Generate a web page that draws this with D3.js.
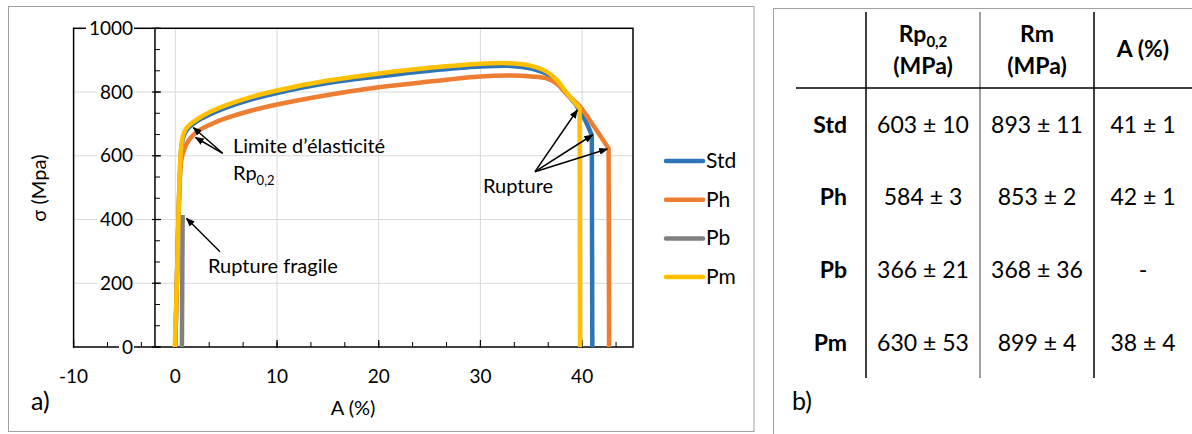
<!DOCTYPE html>
<html><head><meta charset="utf-8">
<script src="https://cdn.jsdelivr.net/npm/d3@7"></script>
<style>
body{margin:0;background:#fff}
svg{display:block}
text{font-family:Lato,'Noto Sans',sans-serif;fill:#000}
</style>
</head><body>
<svg id="c" width="1192" height="434"></svg>
<script>
// ---------- data ----------
const seriesNames = ["Std", "Ph", "Pb", "Pm"];
const seriesColors = ["#2E75B6", "#ED7D31", "#808080", "#FFC000"];

const stdX = [0, 0.25, 0.45, 0.6, 0.8, 1.1, 1.5, 2.2, 3.5, 5, 7.5, 10, 15, 20, 25, 30, 33, 35, 36.5, 37.5, 38.5, 39.5, 40.2, 40.95, 41.0];
const stdY = [0, 330, 540, 625, 660, 680, 694, 710, 731, 751, 777, 797, 828, 849, 867, 880, 882, 874, 857, 832, 794, 755, 718, 665, 0];

const phX = [0, 0.25, 0.45, 0.6, 0.8, 1.1, 1.5, 2.2, 3.5, 5, 7.5, 10, 15, 20, 25, 30, 33, 35, 36.5, 37.5, 38.5, 39.8, 41.2, 42.6, 42.65];
const phY = [0, 330, 530, 588, 613, 637, 656, 677, 699, 718, 742, 761, 791, 815, 833, 849, 852, 849, 843, 826, 793, 754, 690, 623, 0];

const pbX = [0.65, 0.72];
const pbY = [0, 414];

const pmX = [-0.05, 0.15, 0.3, 0.45, 0.6, 0.8, 1.1, 1.5, 2.2, 3.5, 5, 7.5, 10, 15, 20, 25, 30, 33, 35, 36.5, 37.5, 38.5, 39.75, 39.8];
const pmY = [0, 200, 398, 560, 635, 668, 687, 700, 716, 739, 759, 785, 805, 836, 858, 876, 889, 890, 882, 864, 838, 797, 749, 0];

const xTicks = [-10, 0, 10, 20, 30, 40];
const yTicks = [0, 200, 400, 600, 800, 1000];

const tableRows = ["Std", "Ph", "Pb", "Pm"];
const rpValues = ["603 ± 10", "584 ± 3", "366 ± 21", "630 ± 53"];
const rmValues = ["893 ± 11", "853 ± 2", "368 ± 36", "899 ± 4"];
const aValues = ["41 ± 1", "42 ± 1", "-", "38 ± 4"];

// ---------- chart ----------
const svg = d3.select("#c");
const x = d3.scaleLinear().domain([-10, 45]).range([73.6, 633]);
const y = d3.scaleLinear().domain([0, 1000]).range([347, 28.3]);
const yAxisAt = -2;
const FS = 20;

// panel borders
svg.append("rect").attr("x", 8.5).attr("y", 6.5).attr("width", 745.5).attr("height", 425)
  .attr("fill", "none").attr("stroke", "#a0a0a0").attr("stroke-width", 1);
svg.append("path").attr("d", "M773.5,434V8.5H1192").attr("fill", "none").attr("stroke", "#a0a0a0");

const g = svg.append("g");
// gridlines
g.selectAll(".vg").data(xTicks.filter(d => d > -10)).join("line")
  .attr("x1", d => x(d)).attr("x2", d => x(d)).attr("y1", y(0)).attr("y2", y(1000))
  .attr("stroke", "#d9d9d9").attr("stroke-width", 1);
g.selectAll(".hg").data(yTicks.filter(d => d > 0 && d < 1000)).join("line")
  .attr("x1", x(-10)).attr("x2", x(45)).attr("y1", d => y(d)).attr("y2", d => y(d))
  .attr("stroke", "#d9d9d9").attr("stroke-width", 1);
// plot border
g.append("rect").attr("x", x(-10)).attr("y", y(1000)).attr("width", x(45) - x(-10)).attr("height", y(0) - y(1000))
  .attr("fill", "none").attr("stroke", "#000").attr("stroke-width", 1.5);

// y axis at x=-2
g.append("line").attr("x1", x(yAxisAt)).attr("x2", x(yAxisAt)).attr("y1", y(0)).attr("y2", y(1000))
  .attr("stroke", "#000").attr("stroke-width", 1.5);
const yMinor = d3.range(0, 1000.1, 200 / 3);
g.selectAll(".ymt").data(yMinor).join("line")
  .attr("x1", x(yAxisAt)).attr("x2", x(yAxisAt) + 5).attr("y1", d => y(d)).attr("y2", d => y(d))
  .attr("stroke", "#000").attr("stroke-width", 1);
g.selectAll(".yMt").data(yTicks).join("line")
  .attr("x1", x(yAxisAt) - 3).attr("x2", x(yAxisAt) + 6).attr("y1", d => y(d)).attr("y2", d => y(d))
  .attr("stroke", "#000").attr("stroke-width", 1.2);
// x ticks
const xMinor = d3.range(-10, 45, 10 / 3);
g.selectAll(".xmt").data(xMinor).join("line")
  .attr("x1", d => x(d)).attr("x2", d => x(d)).attr("y1", y(0)).attr("y2", y(0) - 5)
  .attr("stroke", "#000").attr("stroke-width", 1);
g.selectAll(".xMt").data(xTicks).join("line")
  .attr("x1", d => x(d)).attr("x2", d => x(d)).attr("y1", y(0) + 1).attr("y2", y(0) - 7)
  .attr("stroke", "#000").attr("stroke-width", 1.2);

// y tick labels with white background
const yl = g.selectAll(".yl").data(yTicks).join("g");
yl.append("rect").attr("x", d => 133 - (String(d).length * 11) - 3).attr("y", d => y(d) - 4)
  .attr("width", d => String(d).length * 11 + 4).attr("height", 8).attr("fill", "#fff");
yl.append("text").attr("x", 133).attr("y", d => y(d) + 6.5).attr("text-anchor", "end")
  .attr("font-size", 19).text(d => d);
// x tick labels
g.selectAll(".xl").data(xTicks).join("text")
  .attr("x", d => x(d)).attr("y", 383).attr("text-anchor", "middle").attr("font-size", 19).text(d => d);

// axis titles
g.append("text").attr("transform", "translate(46,188) rotate(-90)").attr("text-anchor", "middle")
  .attr("font-size", FS).text("σ (Mpa)");
g.append("text").attr("x", 353).attr("y", 415).attr("text-anchor", "middle").attr("font-size", FS).text("A (%)");
g.append("text").attr("x", 31).attr("y", 410).attr("font-size", 25).text("a)");

// series
const series = [
  {name: seriesNames[0], color: seriesColors[0], xs: stdX, ys: stdY},
  {name: seriesNames[1], color: seriesColors[1], xs: phX, ys: phY},
  {name: seriesNames[2], color: seriesColors[2], xs: pbX, ys: pbY},
  {name: seriesNames[3], color: seriesColors[3], xs: pmX, ys: pmY}
];
const smooth = d3.line().x(d => x(d[0])).y(d => y(d[1])).curve(d3.curveCatmullRom.alpha(0.5));
series.forEach(s => {
  const pts = s.xs.map((v, i) => [v, s.ys[i]]);
  let d;
  if (pts.length > 2) {
    const last = pts[pts.length - 1];
    d = smooth(pts.slice(0, -1)) + "L" + x(last[0]) + "," + y(last[1]);
  } else {
    d = d3.line().x(p => x(p[0])).y(p => y(p[1]))(pts);
  }
  g.append("path").attr("d", d).attr("fill", "none").attr("stroke", s.color)
    .attr("stroke-width", 4.5).attr("stroke-linejoin", "round");
});

// legend
const lg = g.selectAll(".lg").data(series).join("g")
  .attr("transform", (d, i) => `translate(0,${161 + i * 38.7})`);
lg.append("line").attr("x1", 666).attr("x2", 703).attr("y1", 0).attr("y2", 0)
  .attr("stroke", d => d.color).attr("stroke-width", 4.5).attr("stroke-linecap", "round");
lg.append("text").attr("x", 706).attr("y", 7).attr("font-size", 21).text(d => d.name);

// annotations
const defs = svg.append("defs");
defs.append("marker").attr("id", "ah").attr("viewBox", "0 0 10 10").attr("refX", 9).attr("refY", 5)
  .attr("markerWidth", 9).attr("markerHeight", 9).attr("markerUnits", "userSpaceOnUse").attr("orient", "auto")
  .append("path").attr("d", "M0,1L10,5L0,9Z").attr("fill", "#000");
const arrows = [
  [222.7, 153.3, 193.3, 127.5],
  [222.7, 153.3, 195.5, 137.5],
  [220, 251.7, 186.5, 218.3],
  [535, 171.7, 577.3, 110],
  [535, 171.7, 592.5, 135],
  [535, 171.7, 607.3, 149]
];
g.selectAll(".ar").data(arrows).join("line")
  .attr("x1", d => d[0]).attr("y1", d => d[1]).attr("x2", d => d[2]).attr("y2", d => d[3])
  .attr("stroke", "#000").attr("stroke-width", 1.5).attr("marker-end", "url(#ah)");

g.append("text").attr("x", 233).attr("y", 152.5).attr("font-size", FS).text("Limite d’élasticité");
const rp = g.append("text").attr("x", 233).attr("y", 180).attr("font-size", FS);
rp.append("tspan").text("Rp");
rp.append("tspan").attr("font-size", 13).attr("dy", 5).text("0,2");
g.append("text").attr("x", 208).attr("y", 273).attr("font-size", FS).text("Rupture fragile");
g.append("text").attr("x", 483).attr("y", 193).attr("font-size", FS).text("Rupture");

// ---------- table ----------
const t = svg.append("g");
const TS = 23;
const colX = [923, 1037, 1143];
const rowY = [125, 197, 270, 343];
[[866, "#000"], [980, "#808080"], [1094, "#000"]].forEach(([lx, c]) => {
  t.append("line").attr("x1", lx).attr("x2", lx).attr("y1", 12).attr("y2", 378)
    .attr("stroke", c).attr("stroke-width", 1.5);
});
t.append("line").attr("x1", 796).attr("x2", 1192).attr("y1", 88).attr("y2", 88).attr("stroke", "#000").attr("stroke-width", 1.5);

const h1 = t.append("text").attr("x", colX[0]).attr("y", 41.5).attr("text-anchor", "middle")
  .attr("font-size", TS).attr("font-weight", "bold");
h1.append("tspan").text("Rp");
h1.append("tspan").attr("font-size", 15).attr("dy", 5).text("0,2");
t.append("text").attr("x", colX[0]).attr("y", 74).attr("text-anchor", "middle").attr("font-size", TS).attr("font-weight", "bold").text("(MPa)");
t.append("text").attr("x", colX[1]).attr("y", 41.5).attr("text-anchor", "middle").attr("font-size", TS).attr("font-weight", "bold").text("Rm");
t.append("text").attr("x", colX[1]).attr("y", 74).attr("text-anchor", "middle").attr("font-size", TS).attr("font-weight", "bold").text("(MPa)");
t.append("text").attr("x", colX[2]).attr("y", 57).attr("text-anchor", "middle").attr("font-size", TS).attr("font-weight", "bold").text("A (%)");

tableRows.forEach((r, i) => {
  t.append("text").attr("x", 847).attr("y", rowY[i] + 8).attr("text-anchor", "end")
    .attr("font-size", TS).attr("font-weight", "bold").text(r);
  [rpValues[i], rmValues[i], aValues[i]].forEach((v, j) => {
    t.append("text").attr("x", colX[j]).attr("y", rowY[i] + 8).attr("text-anchor", "middle")
      .attr("font-size", TS).text(v);
  });
});
t.append("text").attr("x", 792).attr("y", 410).attr("font-size", 25).text("b)");
</script>
</body></html>
